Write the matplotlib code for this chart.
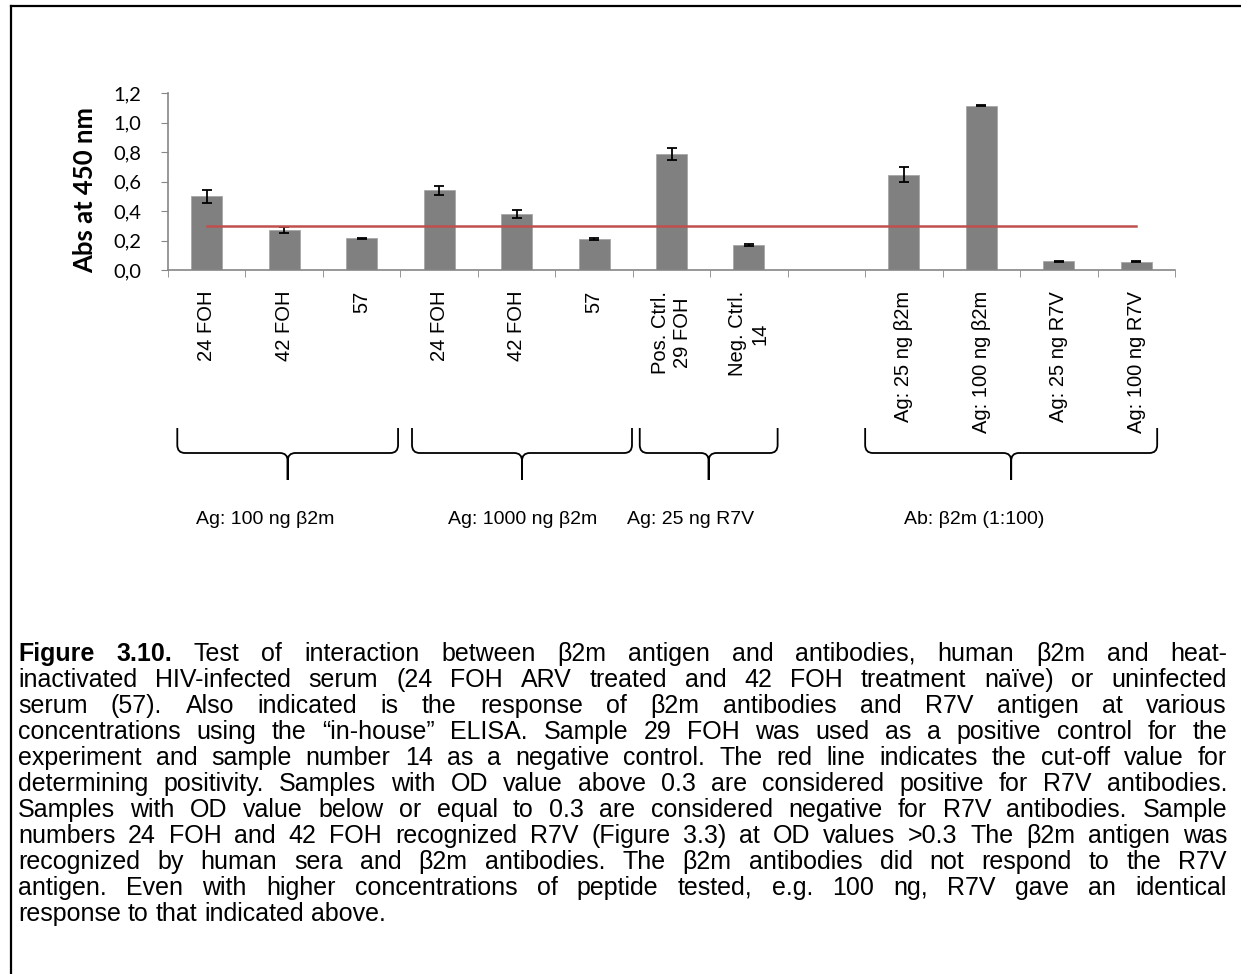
import matplotlib.pyplot as plt
import numpy as np
from matplotlib.path import Path
from matplotlib.patches import PathPatch
from matplotlib.transforms import blended_transform_factory

# Data
samples = ['24 FOH', '42 FOH', '57', '24 FOH', '42 FOH', '57',
           'Pos. Ctrl.\n29 FOH', 'Neg. Ctrl.\n14', '',
           'Ag: 25 ng β2m', 'Ag: 100 ng β2m', 'Ag: 25 ng R7V', 'Ag: 100 ng R7V']
absorbance = [0.50, 0.27, 0.215, 0.54, 0.38, 0.21, 0.785, 0.17, np.nan,
              0.645, 1.115, 0.058, 0.055]
errors = [0.043, 0.022, 0.004, 0.032, 0.025, 0.005, 0.04, 0.005, np.nan,
          0.05, 0.006, 0.004, 0.004]
cutoff = 0.3
y_ticks = [0.0, 0.2, 0.4, 0.6, 0.8, 1.0, 1.2]
y_tick_labels = ['0,0', '0,2', '0,4', '0,6', '0,8', '1,0', '1,2']

groups = ['Ag: 100 ng β2m', 'Ag: 1000 ng β2m', 'Ag: 25 ng R7V', 'Ab: β2m (1:100)']
# brace extents / label centres in category units
group_spans = [(-0.38, 2.47), (2.65, 5.49), (5.59, 7.37), (8.5, 12.27)]
group_label_x = [0.75, 4.08, 6.25, 9.91]

caption = [
    'Figure 3.10. Test of interaction between β2m antigen and antibodies, human β2m and heat-',
    'inactivated HIV-infected serum (24 FOH ARV treated and 42 FOH treatment naïve) or uninfected',
    'serum (57). Also indicated is the response of β2m antibodies and R7V antigen at various',
    'concentrations using the “in-house” ELISA. Sample 29 FOH was used as a positive control for the',
    'experiment and sample number 14 as a negative control. The red line indicates the cut-off value for',
    'determining positivity. Samples with OD value above 0.3 are considered positive for R7V antibodies.',
    'Samples with OD value below or equal to 0.3 are considered negative for R7V antibodies. Sample',
    'numbers 24 FOH and 42 FOH recognized R7V (Figure 3.3) at OD values >0.3 The β2m antigen was',
    'recognized by human sera and β2m antibodies. The β2m antibodies did not respond to the R7V',
    'antigen. Even with higher concentrations of peptide tested, e.g. 100 ng, R7V gave an identical',
    'response to that indicated above.',
]

W, H = 1241, 974
fig = plt.figure(figsize=(W / 100, H / 100), dpi=100)
ax = fig.add_axes([168 / W, 1 - 270 / H, (1175 - 168) / W, (270 - 93) / H])

x = np.arange(len(samples))
ax.bar(x, absorbance, width=0.4, color='#808080', edgecolor='#a6a6a6', linewidth=0.6, zorder=2)
ax.errorbar(x, absorbance, yerr=errors, fmt='none', ecolor='black',
            elinewidth=1.3, capsize=3.5, capthick=1.3, zorder=3)
ax.plot([x[0], x[-1]], [cutoff, cutoff], color='#c0504d', linewidth=1.8, zorder=4)

ax.set_xlim(-0.5, len(samples) - 0.5)
ax.set_ylim(0, 1.2)
ax.set_yticks(y_ticks)
ax.set_yticklabels(y_tick_labels, fontsize=14.5, family='Lato')
ax.set_xticks(x)
ax.set_xticklabels(samples, rotation=90, fontsize=14.5, family='Liberation Sans',
                   va='top', ha='center', multialignment='center')
ax.set_xticks(np.arange(-0.5, len(samples), 1), minor=True)
ax.tick_params(axis='x', which='major', length=0, pad=15)
ax.tick_params(axis='x', which='minor', length=5, color='#868686', direction='out')
ax.tick_params(axis='y', length=5, color='#868686', pad=14)
ax.set_ylabel('Abs at 450 nm', fontsize=18.5, fontweight='bold', family='Lato')
ax.yaxis.set_label_coords((85 - 168) / 1007, (270 - 190) / 177)
ax.yaxis.label.set_va('center')
for s in ['top', 'right']:
    ax.spines[s].set_visible(False)
for s in ['left', 'bottom']:
    ax.spines[s].set_color('#868686')
    ax.spines[s].set_linewidth(1.2)

# braces under the category labels
tr = blended_transform_factory(ax.transData, fig.transFigure)
y_top, y_mid, y_tip = 1 - 428 / H, 1 - 453 / H, 1 - 480 / H
rx, ry = 0.1, 8 / H
for (x0, x1), gx, name in zip(group_spans, group_label_x, groups):
    xc = (x0 + x1) / 2
    verts, codes = [], []
    for xe, sgn in [(x0, 1), (x1, -1)]:
        verts += [(xe, y_top), (xe, y_mid + ry), (xe, y_mid), (xe + sgn * rx, y_mid),
                  (xc - sgn * rx, y_mid), (xc, y_mid), (xc, y_mid - ry), (xc, y_tip)]
        codes += [Path.MOVETO, Path.LINETO, Path.CURVE3, Path.CURVE3,
                  Path.LINETO, Path.CURVE3, Path.CURVE3, Path.LINETO]
    fig.add_artist(PathPatch(Path(verts, codes), transform=tr, fill=False,
                             edgecolor='black', linewidth=1.3))
    fig.text(gx, 1 - 520 / H, name, transform=tr, ha='center', va='center',
             fontsize=14, family='Liberation Sans')

# frame around the figure (right/bottom edges fall outside the image)
fig.add_artist(plt.Line2D([11 / W, 11 / W], [0, 1 - 6 / H], color='black', lw=1.6))
fig.add_artist(plt.Line2D([11 / W, 1], [1 - 6 / H, 1 - 6 / H], color='black', lw=1.6))

# justified caption
r = fig.canvas.get_renderer()
cap_x0, cap_x1 = 18, 1227
cap_y0, cap_dy = 661, 26
cap_size = 18


def word_width(txt, size, weight):
    t = fig.text(0, 0, txt, fontsize=size, fontweight=weight, family='Liberation Sans')
    w = t.get_window_extent(r).width
    t.remove()
    return w


def line_words(li, line):
    words = line.split(' ')
    return [(w, 'bold' if (li == 0 and k < 2) else 'normal') for k, w in enumerate(words)]


sp = word_width('a a', cap_size, 'normal') - word_width('aa', cap_size, 'normal')

for li, line in enumerate(caption):
    words = line_words(li, line)
    widths = [word_width(w, cap_size, wt) for w, wt in words]
    if li < len(caption) - 1:
        gap = (cap_x1 - cap_x0 - sum(widths)) / (len(words) - 1)
    else:
        gap = sp
    xpos = cap_x0
    y = 1 - (cap_y0 + li * cap_dy) / H
    for (w, wt), wd in zip(words, widths):
        fig.text(xpos / W, y, w, fontsize=cap_size, fontweight=wt,
                 family='Liberation Sans', va='baseline', ha='left')
        xpos += wd + gap

fig.savefig('out.png', dpi=100)
